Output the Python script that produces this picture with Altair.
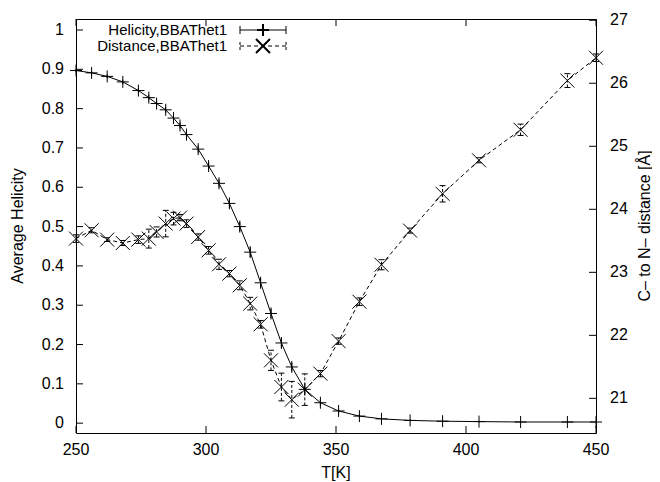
import altair as alt
import pandas as pd

temperature = [250, 256, 262, 268, 274, 278, 281, 284.5, 287.5, 290,
               292.5, 297, 301, 305, 309, 313, 317, 321, 325, 329,
               333, 338, 344, 351, 359, 367.5, 378.5, 391, 405, 421,
               439, 450]
helicity = [0.897, 0.891, 0.882, 0.868, 0.846, 0.828, 0.813, 0.797, 0.776, 0.757,
            0.734, 0.697, 0.654, 0.610, 0.559, 0.500, 0.435, 0.357, 0.279, 0.204,
            0.143, 0.086, 0.052, 0.031, 0.018, 0.011, 0.007, 0.005, 0.004, 0.003,
            0.003, 0.003]
helicity_err = [0.004, 0.005, 0.005, 0.006, 0.006, 0.007, 0.007, 0.008, 0.008, 0.008,
                0.009, 0.009, 0.010, 0.010, 0.011, 0.012, 0.012, 0.012, 0.012, 0.012,
                0.011, 0.010, 0.008, 0.006, 0.004, 0.003, 0.002, 0.002, 0.002, 0.001,
                0.001, 0.001]
distance = [23.535, 23.667, 23.519, 23.465, 23.519, 23.535, 23.640, 23.773, 23.852, 23.868,
            23.773, 23.560, 23.349, 23.127, 22.979, 22.794, 22.503, 22.175, 21.603, 21.180,
            20.979, 21.138, 21.392, 21.908, 22.534, 23.120, 23.662, 24.246, 24.778, 25.262,
            26.043, 26.405]
distance_err = [0.06, 0.04, 0.03, 0.04, 0.06, 0.15, 0.08, 0.21, 0.10, 0.05,
                0.06, 0.05, 0.06, 0.08, 0.05, 0.07, 0.10, 0.06, 0.16, 0.22,
                0.29, 0.25, 0.05, 0.05, 0.06, 0.08, 0.04, 0.13, 0.04, 0.09,
                0.11, 0.06]

x_ticks = [250, 300, 350, 400, 450]
left_ticks = [0, 0.1, 0.2, 0.3, 0.4, 0.5, 0.6, 0.7, 0.8, 0.9, 1]
right_ticks = [21, 22, 23, 24, 25, 26, 27]

x_title = "T[K]"
left_title = "Average Helicity"
right_title = "C\u2013 to N\u2013 distance [\u00c5]"
legend_labels = ["Helicity,BBAThet1", "Distance,BBAThet1"]

df = pd.DataFrame({"T": temperature, "helicity": helicity, "h_err": helicity_err,
                   "distance": distance, "d_err": distance_err})
df["h_lo"] = df["helicity"] - df["h_err"]
df["h_hi"] = df["helicity"] + df["h_err"]
df["d_lo"] = df["distance"] - df["d_err"]
df["d_hi"] = df["distance"] + df["d_err"]

W, H = 520, 414
FONT = "Liberation Sans"
FS = 16
LFS = 15
TICK = 7

PLUS = "M-1,0L1,0M0,-1L0,1"
CROSS = "M-1,-1L1,1M-1,1L1,-1"
CAP = "M-1,0L1,0"

xs = alt.Scale(domain=[250, 450], nice=False, zero=False)
ysl = alt.Scale(domain=[-0.025, 1.028], nice=False, zero=False)
ysr = alt.Scale(domain=[20.45, 27.02], nice=False, zero=False)

base = alt.Chart(df)
xn = alt.X("T:Q", scale=xs, axis=None)

# ---- left (helicity) layer ----
hel_line = base.mark_line(color="black", strokeWidth=1).encode(
    x=xn, y=alt.Y("helicity:Q", scale=ysl, axis=None))
hel_err = base.mark_rule(color="black", strokeWidth=1).encode(
    x=xn, y=alt.Y("h_lo:Q", scale=ysl, axis=None), y2="h_hi:Q")
hel_pts = base.mark_point(shape=PLUS, filled=False, color="black", strokeWidth=1,
                          size=144, opacity=1).encode(
    x=xn, y=alt.Y("helicity:Q", scale=ysl, axis=None))

lt_df = pd.DataFrame({"v": left_ticks})
lt = alt.Chart(lt_df).mark_rule(color="black").encode(
    y=alt.Y("v:Q", scale=ysl, axis=None), x=alt.value(0), x2=alt.value(TICK))
lt_lab = alt.Chart(lt_df).mark_text(align="right", baseline="middle", font=FONT,
                                    fontSize=FS, color="black", dx=-12).encode(
    y=alt.Y("v:Q", scale=ysl, axis=None), x=alt.value(0),
    text=alt.Text("v:Q", format="~g"))

xt_df = pd.DataFrame({"v": x_ticks})
xb = alt.Chart(xt_df).mark_rule(color="black").encode(
    x=alt.X("v:Q", scale=xs, axis=None), y=alt.value(H - TICK), y2=alt.value(H))
xtop = alt.Chart(xt_df).mark_rule(color="black").encode(
    x=alt.X("v:Q", scale=xs, axis=None), y=alt.value(0), y2=alt.value(TICK))
x_lab = alt.Chart(xt_df).mark_text(align="center", baseline="middle", font=FONT,
                                   fontSize=FS, color="black").encode(
    x=alt.X("v:Q", scale=xs, axis=None), y=alt.value(H + 17),
    text=alt.Text("v:Q", format="d"))

left = alt.layer(hel_line, hel_err, hel_pts, lt, lt_lab, xb, xtop, x_lab)

# ---- right (distance) layer ----
dist_line = base.mark_line(color="black", strokeWidth=1, strokeDash=[4, 3]).encode(
    x=xn, y=alt.Y("distance:Q", scale=ysr, axis=None))
dist_err = base.mark_rule(color="black", strokeWidth=1, strokeDash=[3, 2]).encode(
    x=xn, y=alt.Y("d_lo:Q", scale=ysr, axis=None), y2="d_hi:Q")
cap_lo = base.mark_point(shape=CAP, filled=False, color="black", strokeWidth=1,
                         size=36, opacity=1).encode(
    x=xn, y=alt.Y("d_lo:Q", scale=ysr, axis=None))
cap_hi = base.mark_point(shape=CAP, filled=False, color="black", strokeWidth=1,
                         size=36, opacity=1).encode(
    x=xn, y=alt.Y("d_hi:Q", scale=ysr, axis=None))
dist_pts = base.mark_point(shape=CROSS, filled=False, color="black", strokeWidth=1,
                           size=196, opacity=1).encode(
    x=xn, y=alt.Y("distance:Q", scale=ysr, axis=None))
rt_df = pd.DataFrame({"v": right_ticks})
rt = alt.Chart(rt_df).mark_rule(color="black").encode(
    y=alt.Y("v:Q", scale=ysr, axis=None), x=alt.value(W - TICK), x2=alt.value(W))
rt_lab = alt.Chart(rt_df).mark_text(align="left", baseline="middle", font=FONT,
                                    fontSize=FS, color="black", dx=14).encode(
    y=alt.Y("v:Q", scale=ysr, axis=None), x=alt.value(W),
    text=alt.Text("v:Q", format="d"))

right = alt.layer(dist_line, dist_err, cap_lo, cap_hi, dist_pts, rt, rt_lab)

# ---- titles & legend ----
one = alt.Chart(pd.DataFrame({"a": [0]}))


def txt(s, x, y, angle=0, align="center", size=FS):
    return one.mark_text(text=s, align=align, baseline="middle", angle=angle,
                         font=FONT, fontSize=size, color="black").encode(
        x=alt.value(x), y=alt.value(y))


LX_T, LX0, LX1, LXM = 151, 164, 210, 187
RY1, RY2 = 11, 27
decor = [
    txt(x_title, W / 2, H + 40),
    txt(left_title, -58, H / 2, angle=270),
    txt(right_title, W + 49, H / 2, angle=270),
    txt(legend_labels[0], LX_T, RY1, align="right", size=LFS),
    txt(legend_labels[1], LX_T, RY2, align="right", size=LFS),
    one.mark_rule(color="black").encode(x=alt.value(LX0), x2=alt.value(LX1),
                                        y=alt.value(RY1)),
    one.mark_rule(color="black").encode(x=alt.value(LX0), y=alt.value(RY1 - 4),
                                        y2=alt.value(RY1 + 4)),
    one.mark_rule(color="black").encode(x=alt.value(LX1), y=alt.value(RY1 - 4),
                                        y2=alt.value(RY1 + 4)),
    one.mark_point(shape=PLUS, filled=False, color="black", size=144,
                   opacity=1).encode(x=alt.value(LXM), y=alt.value(RY1)),
    one.mark_rule(color="black", strokeDash=[4, 3]).encode(
        x=alt.value(LX0), x2=alt.value(LX1), y=alt.value(RY2)),
    one.mark_rule(color="black", strokeDash=[3, 2]).encode(
        x=alt.value(LX0), y=alt.value(RY2 - 4), y2=alt.value(RY2 + 4)),
    one.mark_rule(color="black", strokeDash=[3, 2]).encode(
        x=alt.value(LX1), y=alt.value(RY2 - 4), y2=alt.value(RY2 + 4)),
    one.mark_point(shape=CROSS, filled=False, color="black", size=196,
                   opacity=1).encode(x=alt.value(LXM), y=alt.value(RY2)),
]

chart = alt.layer(left, right, *decor).resolve_scale(y="independent").properties(
    width=W, height=H,
    autosize=alt.AutoSizeParams(type="none"),
    padding={"left": 68, "top": 11, "right": 56, "bottom": 48},
    background="white",
).configure_view(
    stroke="black", strokeWidth=1
)

chart.save("out.html", embed_options={"renderer": "svg", "actions": False})
